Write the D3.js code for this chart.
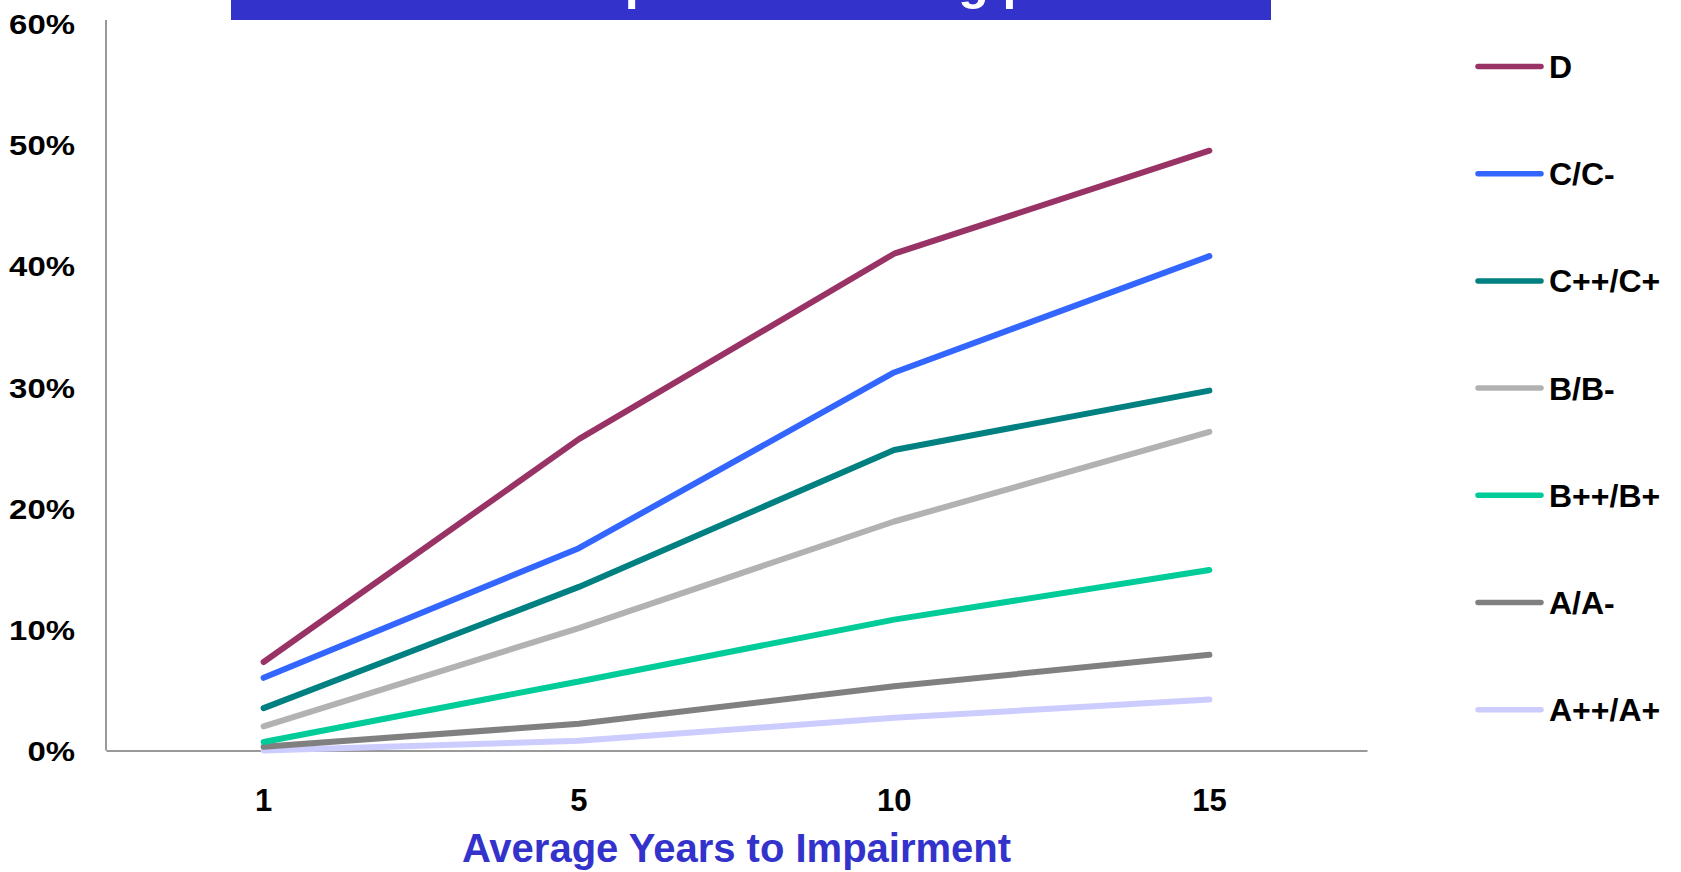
<!DOCTYPE html>
<html>
<head>
<meta charset="utf-8">
<script src="https://cdn.jsdelivr.net/npm/d3@7"></script>
<style>
  body { margin: 0; background: #fff; }
  svg { display: block; font-family: "Liberation Sans", Arial, sans-serif; font-weight: bold; }
</style>
</head>
<body>
<div id="chart"></div>
<script>
// x categories (average years to impairment)
const years = ["1", "5", "10", "15"];
// y tick values
const yTicks = [0, 0.1, 0.2, 0.3, 0.4, 0.5, 0.6];
// rating groups, in legend order
const grades = ["D", "C/C-", "C++/C+", "B/B-", "B++/B+", "A/A-", "A++/A+"];
const gradeColors = ["#993366", "#3366FF", "#008080", "#B2B2B2", "#00CC99", "#808080", "#CCCCFF"];
// cumulative impairment rates per grade
const rateD = [0.073, 0.257, 0.410, 0.495];
const rateC = [0.060, 0.167, 0.312, 0.408];
const rateCplus = [0.035, 0.135, 0.248, 0.297];
const rateB = [0.020, 0.101, 0.189, 0.263];
const rateBplus = [0.007, 0.057, 0.108, 0.149];
const rateA = [0.003, 0.022, 0.053, 0.079];
const rateAplus = [0.000, 0.008, 0.027, 0.042];
const chartTitle = "Cumulative impairment rating profile";
const xTitle = "Average Years to Impairment";

const rates = [rateD, rateC, rateCplus, rateB, rateBplus, rateA, rateAplus];
const series = grades.map((g, i) => ({ name: g, color: gradeColors[i], values: rates[i] }));

const W = 1681, H = 872;
const svg = d3.select("#chart").append("svg")
    .attr("width", W)
    .attr("height", H);

// plot area
const plotLeft = 106, plotRight = 1367, plotTop = 23.5, plotBottom = 750.5;

const x = d3.scaleBand().domain(years).range([plotLeft, plotRight]).padding(0);
const y = d3.scaleLinear().domain([0, 0.6]).range([plotBottom, plotTop]);
const xc = d => x(d) + x.bandwidth() / 2;

// title bar, text mostly cut off at the top of the page
svg.append("rect")
    .attr("x", 231).attr("y", -40)
    .attr("width", 1040).attr("height", 60)
    .attr("fill", "#3333CC");
svg.append("text")
    .attr("x", 283).attr("y", -1)
    .attr("fill", "#fff")
    .style("font-size", "50px")
    .text(chartTitle);

// y axis
const yAxis = svg.append("g")
    .attr("transform", `translate(${plotLeft},0)`)
    .call(d3.axisLeft(y).tickValues(yTicks).tickSize(0).tickFormat(""));
yAxis.select(".domain").remove();
yAxis.append("line")
    .attr("y1", 20).attr("y2", plotBottom)
    .attr("stroke", "#999").attr("stroke-width", 2);
yAxis.selectAll(".tick text").remove();
yAxis.selectAll(".tick").append("text")
    .attr("transform", "translate(-31,10) scale(1.22,1.04)")
    .attr("text-anchor", "end")
    .attr("fill", "#000")
    .style("font-size", "27px")
    .text(d => d3.format(".0%")(d));

// x axis
const xAxis = svg.append("g")
    .attr("transform", `translate(0,${plotBottom})`)
    .call(d3.axisBottom(x).tickSize(0).tickPadding(0));
xAxis.select(".domain").attr("stroke", "#999").attr("stroke-width", 2);
xAxis.selectAll(".tick text")
    .attr("y", 60)
    .attr("dy", 0)
    .attr("fill", "#000")
    .style("font-size", "31px")
    .style("font-family", "'Liberation Sans', Arial, sans-serif")
    .style("font-weight", "bold");

svg.append("text")
    .attr("x", (plotLeft + plotRight) / 2)
    .attr("y", 862)
    .attr("text-anchor", "middle")
    .attr("fill", "#3333CC")
    .style("font-size", "40px")
    .text(xTitle);

// lines
const line = d3.line()
    .x((d, i) => xc(years[i]))
    .y(d => y(d));

svg.append("g")
    .selectAll("path")
    .data(series.slice().reverse())
    .enter().append("path")
    .attr("d", d => line(d.values))
    .attr("fill", "none")
    .attr("stroke", d => d.color)
    .attr("stroke-width", 6)
    .attr("stroke-linecap", "round")
    .attr("stroke-linejoin", "round");

// legend
const legendY = d3.scalePoint().domain(grades).range([66.5, 709.7]);
const legend = svg.selectAll(".legend")
    .data(series)
    .enter().append("g")
    .attr("class", "legend")
    .attr("transform", d => `translate(0,${legendY(d.name)})`);

legend.append("line")
    .attr("x1", 1478).attr("x2", 1541)
    .attr("stroke", d => d.color)
    .attr("stroke-width", 5.5)
    .attr("stroke-linecap", "round");

legend.append("text")
    .attr("x", 1549)
    .attr("y", 11.5)
    .attr("fill", "#000")
    .style("font-size", "32px")
    .text(d => d.name);
</script>
</body>
</html>
